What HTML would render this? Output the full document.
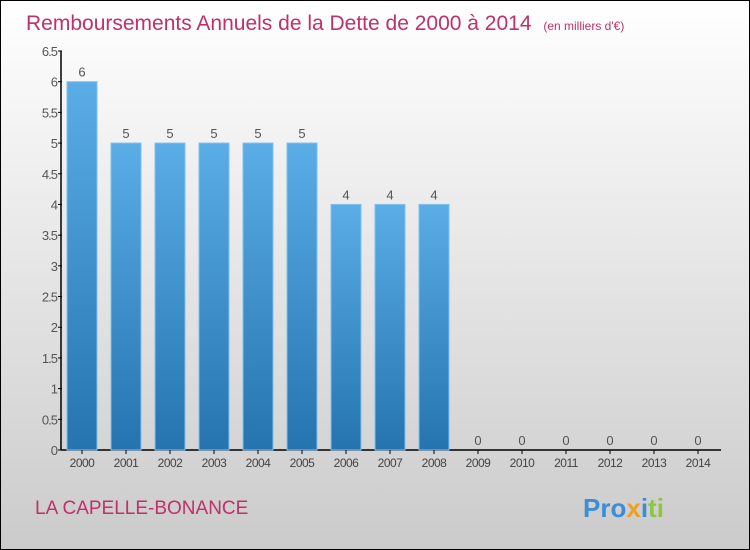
<!DOCTYPE html>
<html><head><meta charset="utf-8"><style>
body{margin:0}
#c{width:748px;height:548px;border:1px solid #000;background:linear-gradient(#fff,#cbcbcb);position:relative;font-family:"Liberation Sans",sans-serif;overflow:hidden}
</style></head><body>
<div id="c">
<svg width="748" height="548" id="svg">
<defs><linearGradient id="bg" x1="0" y1="0" x2="0" y2="1"><stop offset="0" stop-color="#5aade6"/><stop offset="1" stop-color="#2574b0"/></linearGradient></defs>
<text x="25" y="29" font-size="21" fill="#c0306a">Remboursements Annuels de la Dette de 2000 à 2014 <tspan font-size="12" dx="6">(en milliers d'€)</tspan></text>
<text x="34" y="513" font-size="19" fill="#c0306a">LA CAPELLE-BONANCE</text>
<text x="582" y="516" font-size="26" font-weight="bold"><tspan fill="#3b8ed6">Pro</tspan><tspan fill="#f0a020">x</tspan><tspan fill="#3b8ed6">i</tspan><tspan fill="#8cc63f">ti</tspan></text>
<g id="g"></g>
</svg></div>
<script>
const categories=["2000","2001","2002","2003","2004","2005","2006","2007","2008","2009","2010","2011","2012","2013","2014"];
const values=[6,5,5,5,5,5,4,4,4,0,0,0,0,0,0];
const yTicks=[0,0.5,1,1.5,2,2.5,3,3.5,4,4.5,5,5.5,6,6.5];
const NS="http://www.w3.org/2000/svg";
const g=document.getElementById('g');
const y=v=>449-v*(399/6.5);
const x=i=>81+i*44;
function el(t,a){const e=document.createElementNS(NS,t);for(const k in a)e.setAttribute(k,a[k]);g.appendChild(e);return e;}
let ax=el('line',{x1:60,y1:50,x2:60,y2:449,stroke:'#000','stroke-width':1.5});


let bx=el('line',{x1:60,y1:449,x2:720,y2:449,stroke:'#000','stroke-width':1.5});


yTicks.forEach(t=>{
 let l=el('line',{x1:57,x2:61,y1:y(t),y2:y(t),stroke:'#000'});
 
 
 let tx=el('text',{x:56,y:y(t)+5,'font-size':13,fill:'#555','text-anchor':'end','letter-spacing':'-1'});
 tx.textContent=String(t);
 
 
});
categories.forEach((c,i)=>{
 let v=values[i];
 if(v>0){
 let r=el('rect',{x:x(i)-15,y:y(v),width:30,height:449-y(v),fill:'url(#bg)',stroke:'#7fc0ee','stroke-width':1});
 
 
 }
 let vl=el('text',{x:x(i),y:y(v)-5,'font-size':13,fill:'#555','text-anchor':'middle'});
 vl.textContent=String(v);
 
 
 let t=el('line',{x1:x(i),x2:x(i),y1:449,y2:453,stroke:'#000'});
 
 
 let xl=el('text',{x:x(i),y:466,'font-size':12,fill:'#444','text-anchor':'middle','letter-spacing':'-0.5'});
 xl.textContent=c;
 
 
});
</script>
</body></html>
